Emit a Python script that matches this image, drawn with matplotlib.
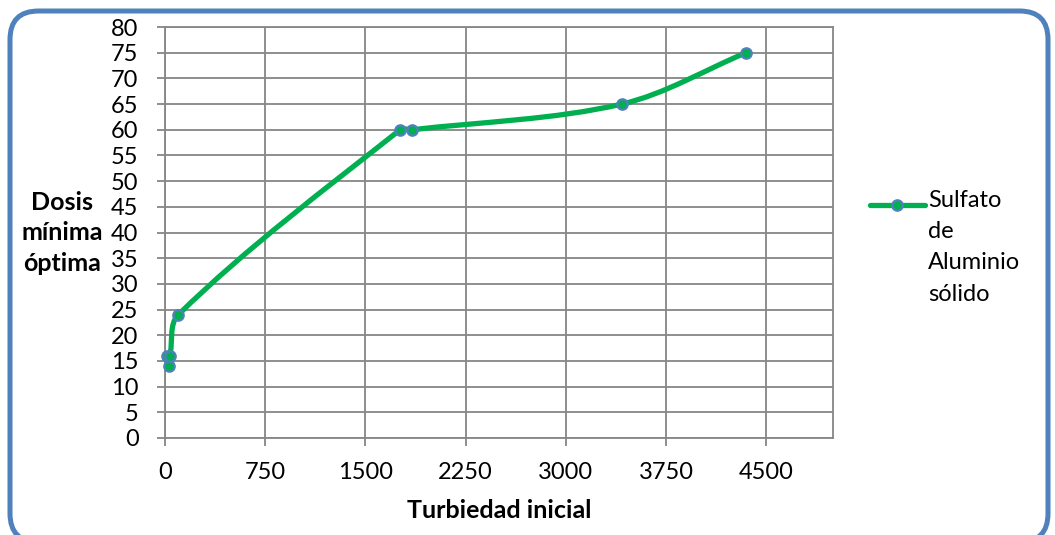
import numpy as np
import matplotlib.pyplot as plt
from matplotlib.path import Path
from matplotlib.patches import PathPatch, FancyBboxPatch
from matplotlib.lines import Line2D

# datos
turbiedad = [30, 15, 35, 100, 1760, 1850, 3420, 4350]
dosis = [14, 16, 16, 24, 60, 60, 65, 75]
serie = "Sulfato\nde\nAluminio\nsólido"
xticks = [0, 750, 1500, 2250, 3000, 3750, 4500]
yticks = list(range(0, 85, 5))

verde = "#00B050"
azul = "#4F81BD"
gris = "#868686"

plt.rcParams['font.family'] = ['Lato', 'DejaVu Sans']

fig = plt.figure(figsize=(10.55, 5.35), dpi=100)
ax = fig.add_axes([165 / 1055, 1 - 438 / 535, (833 - 165) / 1055, (438 - 27) / 535])

# marco redondeado
W, H = 1055, 535
marco = FancyBboxPatch((10 / W, -7 / H), 1038 / W, 531 / H,
                       boxstyle="round,pad=0,rounding_size=0.027",
                       mutation_aspect=W / H,
                       transform=fig.transFigure, fill=False,
                       edgecolor=azul, linewidth=3.6, clip_on=False)
fig.add_artist(marco)

ax.set_xlim(0, 5000)
ax.set_ylim(0, 80)
ax.set_xticks(xticks)
ax.set_yticks(yticks)
ax.tick_params(labelsize=17, length=6, width=1.3, color=gris)
ax.tick_params(axis='x', pad=11)
ax.tick_params(axis='y', pad=13)
ax.grid(True, color=gris, linewidth=1.3)
ax.set_axisbelow(True)
for s in ax.spines.values():
    s.set_color(gris)
    s.set_linewidth(1.3)

# linea suavizada tipo Excel: Bezier con tangentes limitadas (en pixeles)
pts = ax.transData.transform(np.column_stack([turbiedad, dosis]))
n = len(pts)
verts = [pts[0]]
codes = [Path.MOVETO]


def tangente(i):
    a = pts[max(i - 1, 0)]
    b = pts[min(i + 1, n - 1)]
    d = b - a
    return d / np.hypot(*d)


for i in range(n - 1):
    p1, p2 = pts[i], pts[i + 1]
    L = np.hypot(*(p2 - p1)) * 0.33
    verts += [p1 + tangente(i) * L, p2 - tangente(i + 1) * L, p2]
    codes += [Path.CURVE4] * 3
verts = ax.transData.inverted().transform(np.array(verts))
curva = PathPatch(Path(verts, codes), fill=False, edgecolor=verde,
                  linewidth=3.8, capstyle='round', joinstyle='round', zorder=3,
                  clip_on=False)
ax.add_patch(curva)
ax.plot(turbiedad, dosis, linestyle='none', marker='o', markersize=7.5,
        markerfacecolor=verde, markeredgecolor=azul, markeredgewidth=1.6,
        zorder=4, clip_on=False)

ax.set_xlabel("Turbiedad inicial", fontsize=18, fontweight='bold', labelpad=12)
fig.text(62 / W, 1 - 233 / H, "Dosis\nmínima\nóptima", fontsize=18,
         fontweight='bold', ha='center', va='center', linespacing=1.4)

# leyenda
fig.add_artist(Line2D([870 / W, 925 / W], [1 - 205 / H] * 2,
                      transform=fig.transFigure, color=verde, linewidth=3.8,
                      solid_capstyle='round'))
fig.add_artist(Line2D([897 / W], [1 - 205 / H], transform=fig.transFigure,
                      marker='o', markersize=7.5, markerfacecolor=verde,
                      markeredgecolor=azul, markeredgewidth=1.6))
fig.text(928 / W, 1 - 190 / H, serie, fontsize=17, ha='left', va='top',
         linespacing=1.6)

fig.savefig("out.png", dpi=100)
